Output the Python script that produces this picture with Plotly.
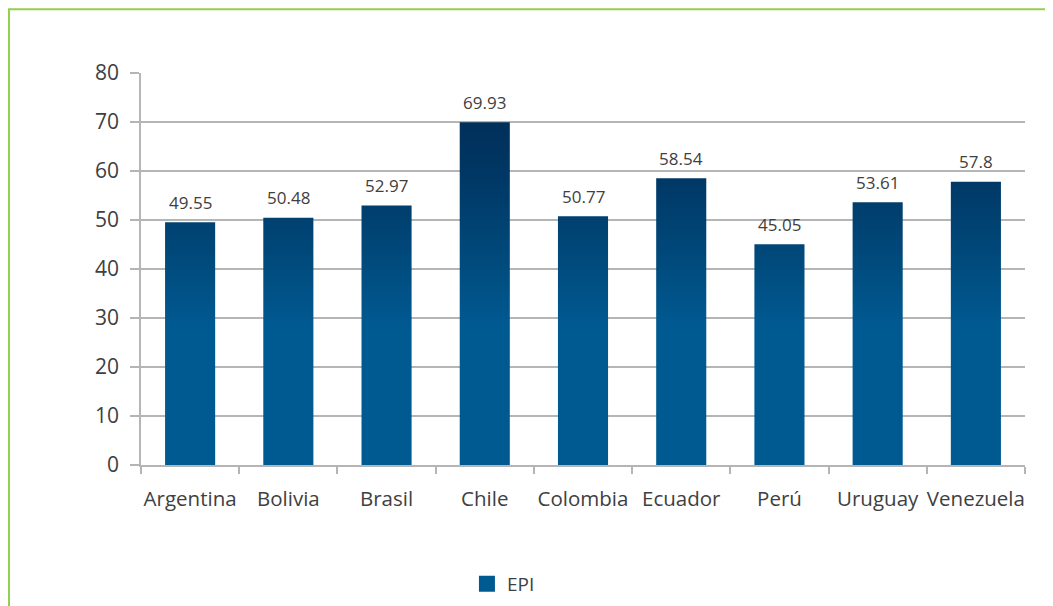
import plotly.graph_objects as go

# EPI por país
countries = ["Argentina", "Bolivia", "Brasil", "Chile", "Colombia",
             "Ecuador", "Perú", "Uruguay", "Venezuela"]
epi = [49.55, 50.48, 52.97, 69.93, 50.77, 58.54, 45.05, 53.61, 57.8]
yTicks = [0, 10, 20, 30, 40, 50, 60, 70, 80]

textColor = "#404040"
gridColor = "#b5b5b5"
barBottom = "#005a92"
halfWidth = 0.255

# vertical gradient, dark navy at the top, flat blue at the bottom
barScale = [[0, barBottom], [0.4, barBottom], [0.6, "#004a7c"],
            [0.85, "#003764"], [1, "#00305a"]]

fig = go.Figure()

for i, v in enumerate(epi):
    fig.add_trace(go.Scatter(
        x=[i - halfWidth, i + halfWidth, i + halfWidth, i - halfWidth, i - halfWidth],
        y=[0, 0, v, v, 0],
        mode="lines", fill="toself",
        line=dict(width=0),
        fillgradient=dict(type="vertical", colorscale=barScale, start=0, stop=70),
        showlegend=False, hoverinfo="skip"))

# legend entry
fig.add_trace(go.Scatter(
    x=[None], y=[None], mode="markers", name="EPI",
    marker=dict(symbol="square", size=16, color=barBottom)))

# value labels above the bars
for i, v in enumerate(epi):
    fig.add_annotation(x=i, y=v, text=str(v), showarrow=False,
                       yanchor="middle", yshift=20,
                       font=dict(size=17, color=textColor))

# page body has an 8px margin, so margins are shifted by 8
fig.update_layout(
    width=1053, height=606,
    margin=dict(l=133, r=36, t=65, b=148),
    paper_bgcolor="white", plot_bgcolor="white",
    font=dict(family="Open Sans", color=textColor),
    showlegend=True,
    legend=dict(orientation="h", x=0.41, xanchor="center", y=-0.3, yanchor="middle",
                font=dict(size=19, color=textColor)),
    # green frame (only left and top edges visible)
    shapes=[dict(type="rect", xref="paper", yref="paper",
                 x0=-0.1493, x1=1.05, y0=-0.4, y1=1.1628,
                 line=dict(color="#92d050", width=2), layer="below")],
)

fig.update_xaxes(
    range=[-0.5, len(countries) - 0.5],
    tickmode="array", tickvals=list(range(len(countries))), ticktext=countries,
    ticks="", showgrid=False, zeroline=False,
    showline=True, linecolor=gridColor, linewidth=1.5,
    tickfont=dict(size=20.5, color=textColor), ticklabelstandoff=15,
    minor=dict(ticks="outside", tick0=0.5, dtick=1, ticklen=7,
               tickwidth=1.5, tickcolor=gridColor, showgrid=False),
)

fig.update_yaxes(
    range=[0, 80], tickmode="array", tickvals=yTicks,
    showgrid=True, gridcolor=gridColor, gridwidth=1.5, zeroline=False,
    showline=True, linecolor=gridColor, linewidth=1.5,
    ticks="outside", ticklen=9, tickwidth=1.5, tickcolor=gridColor,
    tickfont=dict(size=21, color=textColor), ticklabelstandoff=7,
)

fig.write_html("out.html")
